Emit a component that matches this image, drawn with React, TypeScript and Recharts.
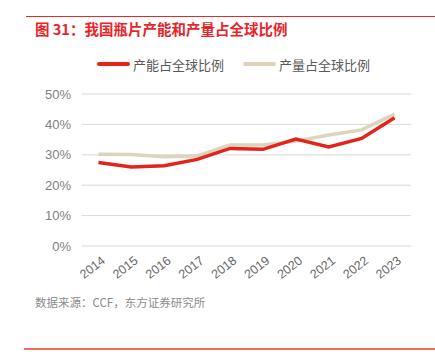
import React from 'react';
import { LineChart, Line, XAxis, YAxis, CartesianGrid } from 'recharts';

const years = ['2014', '2015', '2016', '2017', '2018', '2019', '2020', '2021', '2022', '2023'];
const capacityShare = [27.5, 26.0, 26.4, 28.5, 32.1, 31.8, 35.2, 32.6, 35.4, 42.2];
const outputShare = [30.2, 30.1, 29.4, 29.6, 33.2, 33.2, 34.5, 36.5, 38.2, 43.4];
const yTicks = [0, 10, 20, 30, 40, 50];

const data = years.map((year, i) => ({
  year,
  capacity: capacityShare[i],
  output: outputShare[i],
}));

const RED = '#e3231c';
const BEIGE = '#ddd4bc';
const CJK = '"Noto Sans CJK SC", "Liberation Sans", sans-serif';

const YearTick = ({ x, y, payload }: any) => (
  <g transform={`translate(${x + 5},${y + 5})`}>
    <text x={0} y={0} dy={4} textAnchor="end" transform="rotate(-38)" fill="#666666" fontSize={12.5} fontFamily='"Liberation Sans", Arial, sans-serif'>
      {payload.value}
    </text>
  </g>
);

const LegendItem = ({ color, label, left }: { color: string; label: string; left: number }) => (
  <div style={{ position: 'absolute', left, top: 55, display: 'flex', alignItems: 'center', height: 18 }}>
    <div style={{ width: 33, height: 4, background: color, borderRadius: 2, marginRight: 3 }} />
    <span style={{ fontFamily: CJK, fontSize: 13, color: '#595959' }}>{label}</span>
  </div>
);

const App: React.FC = () => {
  return (
    <div style={{ position: 'absolute', left: 0, top: 0, width: 435, height: 363, background: '#fff', overflow: 'hidden' }}>
      <div style={{ position: 'absolute', left: 26, right: 0, top: 16, height: 1, background: '#e8282b' }} />
      <div style={{ position: 'absolute', left: 35, top: 19, fontFamily: CJK, fontSize: 14.5, fontWeight: 700, color: '#e8242a', lineHeight: '20px' }}>
        图 31：我国瓶片产能和产量占全球比例
      </div>

      <LegendItem color={RED} label="产能占全球比例" left={97} />
      <LegendItem color={BEIGE} label="产量占全球比例" left={243} />

      <div style={{ position: 'absolute', left: 0, top: 0 }}>
        <LineChart width={435} height={290} data={data} margin={{ top: 94, right: 24, bottom: 0, left: 22 }}>
          <CartesianGrid vertical={false} stroke="#d9d9d9" />
          <XAxis dataKey="year" scale="band" axisLine={false} tickLine={false} height={44} interval={0} tick={<YearTick />} />
          <YAxis
            domain={[0, 50]}
            ticks={yTicks}
            width={60}
            axisLine={false}
            tickLine={false}
            tickMargin={5}
            tick={{ fill: '#7f7f7f', fontSize: 13, fontFamily: '"Liberation Sans", Arial, sans-serif' }}
            tickFormatter={(v: number) => `${v}%`}
          />
          <Line type="linear" dataKey="output" stroke={BEIGE} strokeWidth={3.5} dot={false} isAnimationActive={false} />
          <Line type="linear" dataKey="capacity" stroke={RED} strokeWidth={3.5} dot={false} isAnimationActive={false} />
        </LineChart>
      </div>

      <div style={{ position: 'absolute', left: 35, top: 294, fontFamily: CJK, fontSize: 11.5, color: '#8c8c8c', lineHeight: '16px' }}>
        数据来源：CCF，东方证券研究所
      </div>
      <div style={{ position: 'absolute', left: 24, right: 0, top: 348, height: 2, background: '#ee6b60' }} />
    </div>
  );
};

export default App;
